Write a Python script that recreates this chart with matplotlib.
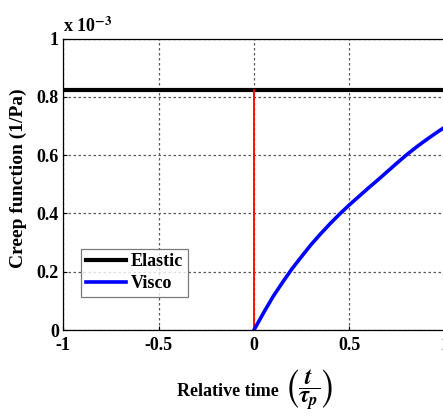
import numpy as np
import matplotlib
matplotlib.use('Agg')
import matplotlib.pyplot as plt

# values in units of 1e-3 1/Pa
elastic_level = 0.825
t_visco = [0, 0.05, 0.1, 0.15, 0.2, 0.25, 0.3, 0.35, 0.4, 0.45, 0.5, 0.55,
           0.6, 0.65, 0.7, 0.75, 0.8, 0.85, 0.9, 0.95, 1.0]
j_visco = [0, 0.059, 0.115, 0.164, 0.211, 0.253, 0.294, 0.331, 0.366, 0.399, 0.430, 0.459,
           0.488, 0.516, 0.545, 0.574, 0.602, 0.628, 0.652, 0.675, 0.697]
x_ticks = [-1, -0.5, 0, 0.5, 1]
x_ticklabels = ['-1', '-0.5', '0', '0.5', '1']
y_ticks = [0, 0.2, 0.4, 0.6, 0.8, 1.0]
y_ticklabels = ['0', '0.2', '0.4', '0.6', '0.8', '1']

plt.rcParams['font.family'] = ['Liberation Serif', 'DejaVu Serif']
plt.rcParams['font.weight'] = 'bold'
plt.rcParams['mathtext.fontset'] = 'stix'

W, H = 443, 419
fig = plt.figure(figsize=(W / 100, H / 100), dpi=100)
ax = fig.add_axes([63 / W, 1 - 330 / H, 382 / W, (330 - 38.7) / H])

# elastic response and the loading instant
ax.plot([-1, 1], [elastic_level, elastic_level], color='black', lw=3, label='Elastic')
ax.plot([0, 0], [0, elastic_level], color='red', lw=1.3)
ax.plot(t_visco, j_visco, color='blue', lw=2.6, label='Visco')

ax.set_xlim(-1, 1)
ax.set_ylim(0, 1)
ax.set_xticks(x_ticks)
ax.set_xticklabels(x_ticklabels)
ax.set_yticks(y_ticks)
ax.set_yticklabels(y_ticklabels)
ax.tick_params(direction='in', length=3, labelsize=13, width=0.8, pad=3)
ax.tick_params(axis='x', pad=5)
for lab in ax.get_xticklabels() + ax.get_yticklabels():
    lab.set_fontweight('bold')

ax.grid(True, linestyle=(0, (2, 2)), color='0.35', lw=0.9)
for sp in ax.spines.values():
    sp.set_linewidth(0.9)

ax.text(0, (330 - 32) / 291.3, r'x 10$^{\mathbf{-3}}$', transform=ax.transAxes,
        fontsize=13, fontweight='bold', va='baseline', ha='left')

ax.set_ylabel('Creep function (1/Pa)', fontsize=14, fontweight='bold')
ax.yaxis.set_label_coords((27 - 63) / 382, 0.52)

# x label: bold words plus a large fraction in parentheses
fig.text(279 / W, 1 - 396 / H, 'Relative time', fontsize=13, fontweight='bold',
         ha='right', va='baseline')
fig.text(286 / W, 1 - 390 / H, r'$\left(\dfrac{t}{\tau_p}\right)$', fontsize=17,
         fontweight='normal', ha='left', va='center')

leg = ax.legend(loc='lower left', bbox_to_anchor=(0.048, 0.115), fontsize=13,
                frameon=True, fancybox=False, handlelength=2.2, borderpad=0.25,
                labelspacing=0.25, handletextpad=0.3, borderaxespad=0)
leg.get_frame().set_edgecolor('0.35')
leg.get_frame().set_linewidth(0.9)
for txt in leg.get_texts():
    txt.set_fontweight('bold')

fig.savefig('out.png', dpi=100)
